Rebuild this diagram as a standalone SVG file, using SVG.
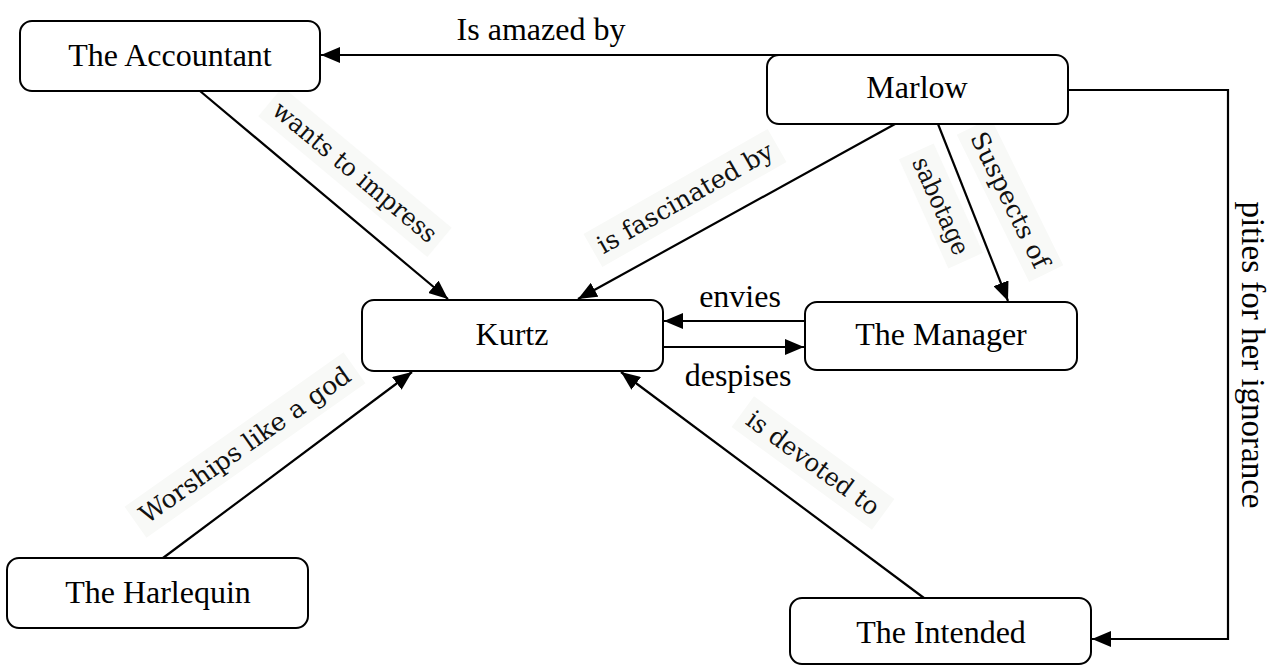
<svg xmlns="http://www.w3.org/2000/svg" width="1273" height="665" viewBox="0 0 1273 665">
<style>
.box{fill:#fff;stroke:#000;stroke-width:2}
.t{font-family:"Liberation Serif","Times New Roman",serif;font-size:32px;fill:#000;text-anchor:middle}
.lbl{font-family:"DejaVu Serif","Liberation Serif",serif;font-size:25px;fill:#111;text-anchor:middle;dominant-baseline:central}
.bg{fill:#f8f9f7}
.c{fill:none;stroke:#000;stroke-width:2.2;marker-end:url(#ah)}
</style>
<defs>
<marker id="ah" markerUnits="userSpaceOnUse" markerWidth="20" markerHeight="16" refX="19" refY="8" orient="auto">
<path d="M0,0 L19,8 L0,16 z" fill="#000"/>
</marker>
</defs>
<rect width="1273" height="665" fill="#fff"/>
<g id="labels">
<g transform="translate(355,172) rotate(39.8)"><rect class="bg" x="-110" y="-19" width="220" height="38"/><text class="lbl" textLength="205" lengthAdjust="spacingAndGlyphs">wants to impress</text></g>
<g transform="translate(685,198) rotate(-29.7)"><rect class="bg" x="-106" y="-19" width="212" height="38"/><text class="lbl" textLength="198" lengthAdjust="spacingAndGlyphs">is fascinated by</text></g>
<g transform="translate(1010,200) rotate(63.8)"><rect class="bg" x="-82" y="-19" width="164" height="38"/><text class="lbl" textLength="148" lengthAdjust="spacingAndGlyphs">Suspects of</text></g>
<g transform="translate(941,206) rotate(65.7)"><rect class="bg" x="-60" y="-19" width="120" height="38"/><text class="lbl" textLength="104" lengthAdjust="spacingAndGlyphs">sabotage</text></g>
<g transform="translate(245,445) rotate(-35.2)"><rect class="bg" x="-134" y="-19" width="268" height="38"/><text class="lbl" textLength="252" lengthAdjust="spacingAndGlyphs">Worships like a god</text></g>
<g transform="translate(813,463) rotate(36.2)"><rect class="bg" x="-87" y="-19" width="174" height="38"/><text class="lbl" textLength="158" lengthAdjust="spacingAndGlyphs">is devoted to</text></g>
<text class="t" x="541" y="40">Is amazed by</text>
<text class="t" x="740" y="307">envies</text>
<text class="t" x="738" y="386">despises</text>
<text class="t" transform="translate(1242,355) rotate(90)" style="font-size:33px">pities for her ignorance</text>
</g>
<g id="connectors">
<path class="c" d="M780,55 L321,55"/>
<path class="c" d="M200,91 L448,299"/>
<path class="c" d="M895,124 L578,299"/>
<path class="c" d="M938,124 L1008,301"/>
<path class="c" d="M805,321 L664,321"/>
<path class="c" d="M663,347 L804,347"/>
<path class="c" d="M163,558 L412,372"/>
<path class="c" d="M924,598 L621,372"/>
<path class="c" d="M1068,90 L1228,90 L1228,639 L1092,639"/>
</g>
<g id="accountant"><rect class="box" x="20" y="21" width="300" height="70" rx="12"/><text class="t" x="170" y="66">The Accountant</text></g>
<g id="marlow"><rect class="box" x="767" y="55" width="301" height="69" rx="12"/><text class="t" x="917" y="98">Marlow</text></g>
<g id="kurtz"><rect class="box" x="362" y="300" width="301" height="71" rx="12"/><text class="t" x="512" y="345">Kurtz</text></g>
<g id="manager"><rect class="box" x="805" y="302" width="272" height="68" rx="12"/><text class="t" x="941" y="345">The Manager</text></g>
<g id="harlequin"><rect class="box" x="7" y="558" width="301" height="70" rx="12"/><text class="t" x="158" y="603">The Harlequin</text></g>
<g id="intended"><rect class="box" x="790" y="598" width="301" height="66" rx="12"/><text class="t" x="941" y="643">The Intended</text></g>
</svg>
